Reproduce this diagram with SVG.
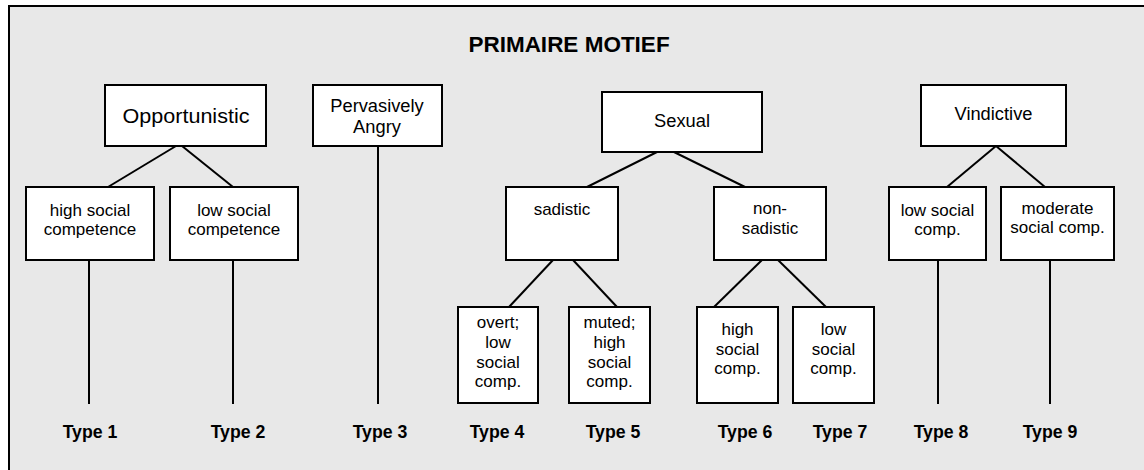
<svg xmlns="http://www.w3.org/2000/svg" width="1144" height="470" viewBox="0 0 1144 470">
<style>
.box{fill:#fff;stroke:#000;stroke-width:2}
.ln{stroke:#000;stroke-width:2;fill:none}
text{font-family:"Liberation Sans",Arial,sans-serif;fill:#000;text-anchor:middle}
.big{font-size:18.3px}
.sm{font-size:17px}
.ty{font-size:17.7px;font-weight:bold}
.title{font-size:22.5px;font-weight:bold}
</style>
<rect x="0" y="0" width="1144" height="470" fill="#fff"/>
<rect x="9" y="6" width="1150" height="480" fill="#e8e8e8" stroke="#000" stroke-width="2"/>
<text class="title" x="569" y="52">PRIMAIRE MOTIEF</text>
<g id="connectors">
<line class="ln" x1="176" y1="146" x2="108" y2="187"/>
<line class="ln" x1="182" y1="146" x2="233" y2="187"/>
<line class="ln" x1="89" y1="260" x2="89" y2="404"/>
<line class="ln" x1="233" y1="260" x2="233" y2="404"/>
<line class="ln" x1="378" y1="146" x2="378" y2="404"/>
<line class="ln" x1="657" y1="152" x2="587" y2="187"/>
<line class="ln" x1="674" y1="152" x2="745" y2="187"/>
<line class="ln" x1="553" y1="260" x2="509" y2="307"/>
<line class="ln" x1="573" y1="260" x2="617" y2="307"/>
<line class="ln" x1="762" y1="260" x2="714" y2="307"/>
<line class="ln" x1="778" y1="260" x2="826" y2="307"/>
<line class="ln" x1="996" y1="146" x2="947" y2="187"/>
<line class="ln" x1="996" y1="146" x2="1045" y2="187"/>
<line class="ln" x1="938" y1="260" x2="938" y2="404"/>
<line class="ln" x1="1050" y1="260" x2="1050" y2="404"/>
</g>
<g id="opportunistic"><rect class="box" x="105" y="85" width="161" height="61"/><text x="186" y="123" font-size="20" textLength="127" lengthAdjust="spacingAndGlyphs">Opportunistic</text></g>
<g id="opp-high"><rect class="box" x="26" y="187" width="128" height="73"/><text class="sm" x="90" y="216">high social</text><text class="sm" x="90" y="235">competence</text></g>
<g id="opp-low"><rect class="box" x="170" y="187" width="128" height="73"/><text class="sm" x="234" y="216">low social</text><text class="sm" x="234" y="235">competence</text></g>
<g id="angry"><rect class="box" x="313" y="85" width="129" height="61"/><text class="big" x="377" y="112">Pervasively</text><text class="big" x="377" y="133">Angry</text></g>
<g id="sexual"><rect class="box" x="602" y="92" width="160" height="60"/><text class="big" x="682" y="127">Sexual</text></g>
<g id="sadistic"><rect class="box" x="506" y="187" width="112" height="73"/><text class="sm" x="562" y="215">sadistic</text></g>
<g id="nonsadistic"><rect class="box" x="714" y="187" width="112" height="73"/><text class="sm" x="770" y="214">non-</text><text class="sm" x="770" y="234">sadistic</text></g>
<g id="overt"><rect class="box" x="458" y="307" width="80" height="96"/><text class="sm" x="498" y="328">overt;</text><text class="sm" x="498" y="348">low</text><text class="sm" x="498" y="368">social</text><text class="sm" x="498" y="387">comp.</text></g>
<g id="muted"><rect class="box" x="569" y="307" width="81" height="96"/><text class="sm" x="609.5" y="328">muted;</text><text class="sm" x="609.5" y="348">high</text><text class="sm" x="609.5" y="368">social</text><text class="sm" x="609.5" y="387">comp.</text></g>
<g id="ns-high"><rect class="box" x="697" y="307" width="81" height="96"/><text class="sm" x="737.5" y="335">high</text><text class="sm" x="737.5" y="355">social</text><text class="sm" x="737.5" y="374">comp.</text></g>
<g id="ns-low"><rect class="box" x="793" y="307" width="81" height="96"/><text class="sm" x="833.5" y="335">low</text><text class="sm" x="833.5" y="355">social</text><text class="sm" x="833.5" y="374">comp.</text></g>
<g id="vindictive"><rect class="box" x="921" y="85" width="145" height="61"/><text class="big" x="993.5" y="120">Vindictive</text></g>
<g id="vin-low"><rect class="box" x="889" y="187" width="97" height="73"/><text class="sm" x="937.5" y="216">low social</text><text class="sm" x="937.5" y="235">comp.</text></g>
<g id="vin-mod"><rect class="box" x="1001" y="187" width="113" height="73"/><text class="sm" x="1057.5" y="214">moderate</text><text class="sm" x="1057.5" y="233">social comp.</text></g>
<g id="types">
<text class="ty" x="90" y="438">Type 1</text>
<text class="ty" x="238" y="438">Type 2</text>
<text class="ty" x="380" y="438">Type 3</text>
<text class="ty" x="497" y="438">Type 4</text>
<text class="ty" x="613" y="438">Type 5</text>
<text class="ty" x="745" y="438">Type 6</text>
<text class="ty" x="840" y="438">Type 7</text>
<text class="ty" x="941" y="438">Type 8</text>
<text class="ty" x="1050" y="438">Type 9</text>
</g>
</svg>
